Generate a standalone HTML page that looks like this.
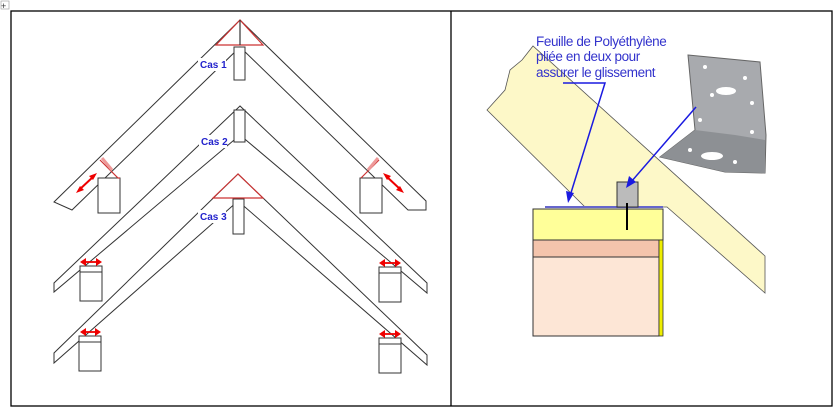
<!DOCTYPE html><html><head><meta charset="utf-8"><style>
body{margin:0;background:#fff;width:839px;height:413px;overflow:hidden;font-family:"Liberation Sans",sans-serif}
</style></head><body>
<svg width="839" height="413" viewBox="0 0 839 413" xmlns="http://www.w3.org/2000/svg">
<rect x="1" y="1" width="8" height="8" fill="#fff" stroke="#999" stroke-width="0.6"/>
<text x="1" y="9" font-size="9" fill="#333">+</text>
<rect x="11" y="11" width="821" height="395" fill="none" stroke="#000" stroke-width="1.3"/>
<line x1="451" y1="11" x2="451" y2="406" stroke="#000" stroke-width="1.3"/>
<g fill="#fff" stroke="#333" stroke-width="1">
<polygon points="240,20 54,202 72,210 240,47 408,210 426,210 426,201"/>
<polygon points="240,106 54,283 54,292 240,135 427,293 427,283"/>
<polygon points="238,174 54,353 54,363 238,201 427,365 427,355"/>
<rect x="234" y="47" width="11" height="33"/>
<rect x="234" y="110" width="11" height="32"/>
<rect x="233" y="199" width="11" height="35"/>
<rect x="98" y="178" width="22" height="35"/>
<rect x="360" y="178" width="22" height="35"/>
<rect x="80" y="266" width="22" height="35"/><line x1="80" y1="272" x2="102" y2="272"/>
<rect x="379" y="267" width="22" height="35"/><line x1="379" y1="273" x2="401" y2="273"/>
<rect x="79" y="336" width="22" height="35"/><line x1="79" y1="342" x2="101" y2="342"/>
<rect x="379" y="338" width="22" height="35"/><line x1="379" y1="344" x2="401" y2="344"/>
</g>
<g fill="none" stroke="#c33" stroke-width="1.2">
<polygon points="240,20 216,45 263,45"/>
<polygon points="238,174 213,198 263,198"/>
<line x1="240" y1="20" x2="240" y2="45" stroke="#333"/>
<polyline points="100,160 118,178 120,178" /><line x1="102" y1="158" x2="112" y2="170" stroke-width="3" stroke="#e99"/>
<polyline points="379,160 361,178" /><line x1="378" y1="158" x2="368" y2="170" stroke-width="3" stroke="#e99"/>
</g>
<g stroke="#e00" stroke-width="2" fill="#e00">
<line x1="79" y1="190" x2="94" y2="176"/><polygon points="76,193 84,190 80,186" stroke="none"/><polygon points="97,173 89,176 93,180" stroke="none"/>
<line x1="386" y1="176" x2="401" y2="190"/><polygon points="383,173 391,176 387,180" stroke="none"/><polygon points="404,193 396,190 400,186" stroke="none"/>
<g stroke-width="1.8">
<line x1="83" y1="262" x2="99" y2="262"/><line x1="382" y1="263" x2="398" y2="263"/>
<line x1="83" y1="332" x2="98" y2="332"/><line x1="382" y1="334" x2="398" y2="334"/>
</g>
<g stroke="none">
<polygon points="80,262 86,258 86,266"/><polygon points="102,262 96,258 96,266"/>
<polygon points="379,263 385,259 385,267"/><polygon points="401,263 395,259 395,267"/>
<polygon points="80,332 86,328 86,336"/><polygon points="101,332 95,328 95,336"/>
<polygon points="379,334 385,330 385,338"/><polygon points="401,334 395,330 395,338"/>
</g>
</g>
<g font-size="10" font-weight="bold" fill="#22c">
<rect x="198" y="58" width="28" height="13" fill="#fff"/><text x="200" y="68">Cas 1</text>
<rect x="199" y="135" width="28" height="13" fill="#fff"/><text x="201" y="145">Cas 2</text>
<rect x="198" y="210" width="28" height="13" fill="#fff"/><text x="200" y="220">Cas 3</text>
</g>
<polygon points="487,110 505,90 510,70 522,60 533,46 765,256 765,293 667,207 585,207" fill="#fdf8c8" stroke="#555" stroke-width="0.8"/>
<rect x="533" y="209" width="130" height="31" fill="#ffff99" stroke="#333" stroke-width="1"/>
<line x1="545" y1="207" x2="663" y2="207" stroke="#66c" stroke-width="2"/>
<rect x="533" y="240" width="126" height="17" fill="#f4c4ac" stroke="#333" stroke-width="1"/>
<rect x="533" y="257" width="126" height="79" fill="#fde6d6" stroke="#333" stroke-width="1"/>
<rect x="659" y="240" width="4" height="96" fill="#ee0" stroke="#333" stroke-width="0.8"/>
<rect x="617" y="182" width="21" height="25" fill="#bbb" stroke="#333"/>
<line x1="627" y1="203" x2="627" y2="230" stroke="#000" stroke-width="2"/>
<polygon points="688,55 760,62 766,135 765,173 725,172 660,157 695,130" fill="#a8aaae" stroke="#666"/>
<polygon points="660,157 695,130 735,135 765,140 765,173 725,172" fill="#8d9094"/>
<g fill="#fff"><circle cx="705" cy="67" r="2"/><circle cx="745" cy="78" r="2"/><circle cx="712" cy="95" r="2"/><circle cx="752" cy="103" r="2"/><circle cx="700" cy="120" r="2"/><circle cx="752" cy="132" r="2"/><ellipse cx="726" cy="91" rx="10" ry="4"/><ellipse cx="712" cy="156" rx="11" ry="4"/><circle cx="690" cy="150" r="2"/><circle cx="735" cy="162" r="2"/></g>
<g stroke="#1a1ae0" stroke-width="1.5" fill="#1a1ae0">
<polyline points="563,83 605,83 570,196" fill="none"/><polygon points="568,203 566,191 574,193" stroke="none"/>
<line x1="696" y1="107" x2="631" y2="182"/><polygon points="626,188 629,176 636,182" stroke="none"/>
</g>
<g font-size="13.5" fill="#3333cc" letter-spacing="-0.4">
<text x="536" y="46">Feuille de Polyéthylène</text>
<text x="536" y="61">pliée en deux pour</text>
<text x="536" y="77">assurer le glissement</text>
</g>
</svg>
</body></html>
